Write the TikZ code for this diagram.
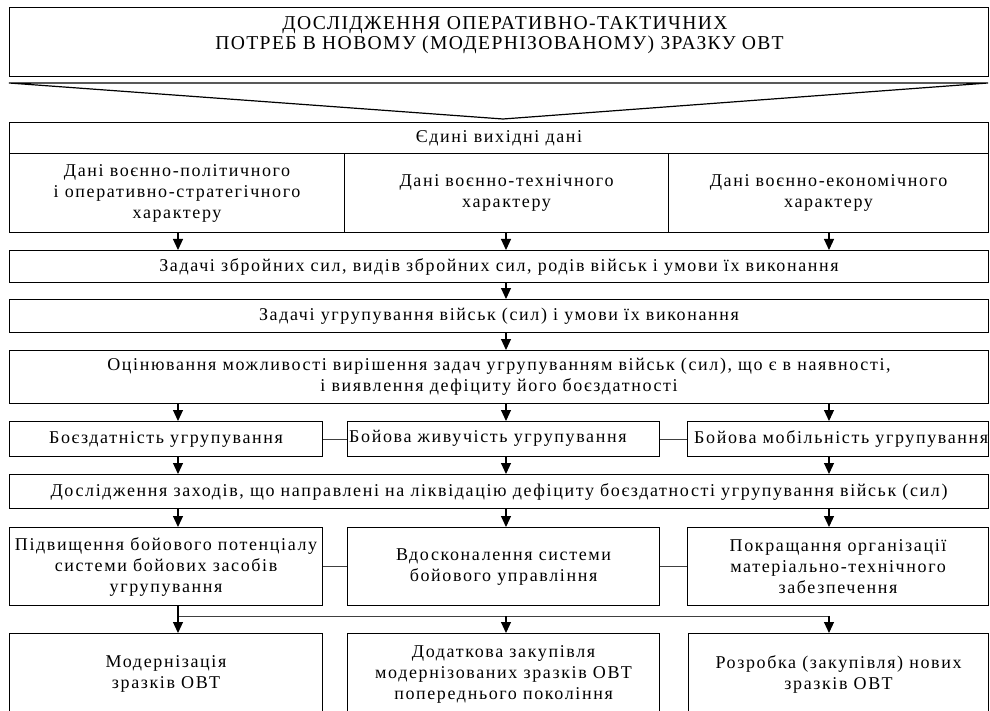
\documentclass[tikz,border=0pt]{standalone}
\usepackage{fontspec}
\setmainfont{Liberation Serif}
\newfontfamily\bodyfont{Liberation Serif}[LetterSpace=9]
\newfontfamily\titlefont{Liberation Serif}[LetterSpace=7]
\usetikzlibrary{arrows.meta}
\begin{document}
\begin{tikzpicture}[x=1pt,y=-1pt,
  box/.style={draw=black, line width=1.1pt, inner sep=0pt, anchor=north west, align=center,
    font=\bodyfont\fontsize{18}{21}\selectfont},
  txt/.style={inner sep=0pt, align=center, font=\bodyfont\fontsize{18}{21}\selectfont},
  ttl/.style={inner sep=0pt, anchor=base, font=\titlefont\fontsize{19.6}{21}\selectfont},
  arr/.style={draw=black, line width=1.1pt, -{Triangle[length=11pt,width=10pt]}},
  link/.style={draw=black!75, line width=0.9pt}]
\useasboundingbox (0,0) rectangle (990,711);
\fill[white] (0,0) rectangle (990,711);
% arrow columns
\coordinate (xa) at (178,0);
\coordinate (xb) at (506,0);
\coordinate (xc) at (829,0);
% title
\node[box, minimum width=979, minimum height=69] (top) at (9,7) {};
\node[ttl] (toptxt1) at (505,30) {ДОСЛІДЖЕННЯ ОПЕРАТИВНО-ТАКТИЧНИХ};
\node[ttl] (toptxt2) at (499.5,50) {ПОТРЕБ В НОВОМУ (МОДЕРНІЗОВАНОМУ) ЗРАЗКУ ОВТ};
% chevron
\coordinate (chl) at (9,83);
\coordinate (chr) at (988,83);
\coordinate (cht) at (503,119);
\draw[line width=1.2pt, line join=miter] (chl) -- (chr) -- (cht) -- cycle;
% source data
\node[box, minimum width=979, minimum height=31] (hdr) at (9,122) {Єдині вихідні дані};
\node[box, minimum width=335, minimum height=79] (c1) at (9,153)
  {Дані воєнно-політичного\\і оперативно-стратегічного\\характеру};
\node[box, minimum width=324, minimum height=79] (c2) at (344,153)
  {Дані воєнно-технічного\\характеру};
\node[box, minimum width=320, minimum height=79] (c3) at (668,153)
  {Дані воєнно-економічного\\характеру};
% rows
\node[box, minimum width=979, minimum height=32] (b2) at (9,250)
  {Задачі збройних сил, видів збройних сил, родів військ і умови їх виконання};
\node[box, minimum width=979, minimum height=33] (b3) at (9,299)
  {Задачі угрупування військ (сил) і умови їх виконання};
\node[box, minimum width=979, minimum height=53] (b4) at (9,350)
  {Оцінювання можливості вирішення задач угрупуванням військ (сил), що є в наявності,\\і виявлення дефіциту його боєздатності};
\draw[arr] (xa |- c1.south) -- (xa |- b2.north);
\draw[arr] (xb |- c2.south) -- (xb |- b2.north);
\draw[arr] (xc |- c3.south) -- (xc |- b2.north);
\draw[arr] (xb |- b2.south) -- (xb |- b3.north);
\draw[arr] (xb |- b3.south) -- (xb |- b4.north);
% row 1
\node[box, minimum width=313, minimum height=35] (r1a) at (9,421) {Боєздатність угрупування};
\node[box, minimum width=312, minimum height=35] (r1b) at (347,421) {};
\node[box, minimum width=301, minimum height=35] (r1c) at (687,421) {};
\node[txt, anchor=west] (r1bt) at (349,438.5) {Бойова живучість угрупування};
\node[txt, anchor=west] (r1ct) at (694,438.5) {Бойова мобільність угрупування};
\draw[link] (r1a.east) -- (r1b.west);
\draw[link] (r1b.east) -- (r1c.west);
\draw[arr] (xa |- b4.south) -- (xa |- r1a.north);
\draw[arr] (xb |- b4.south) -- (xb |- r1b.north);
\draw[arr] (xc |- b4.south) -- (xc |- r1c.north);
% measures
\node[box, minimum width=979, minimum height=34] (b6) at (9,474)
  {Дослідження заходів, що направлені на ліквідацію дефіциту боєздатності угрупування військ (сил)};
\draw[arr] (xa |- r1a.south) -- (xa |- b6.north);
\draw[arr] (xb |- r1b.south) -- (xb |- b6.north);
\draw[arr] (xc |- r1c.south) -- (xc |- b6.north);
% row 2
\node[box, minimum width=313, minimum height=78] (r2a) at (9,527)
  {Підвищення бойового потенціалу\\системи бойових засобів\\угрупування};
\node[box, minimum width=312, minimum height=78] (r2b) at (347,527)
  {Вдосконалення системи\\бойового управління};
\node[box, minimum width=301, minimum height=78] (r2c) at (687,527)
  {Покращання організації\\матеріально-технічного\\забезпечення};
\draw[link] (r2a.east) -- (r2b.west);
\draw[link] (r2b.east) -- (r2c.west);
\draw[arr] (xa |- b6.south) -- (xa |- r2a.north);
\draw[arr] (xb |- b6.south) -- (xb |- r2b.north);
\draw[arr] (xc |- b6.south) -- (xc |- r2c.north);
% bottom
\node[box, minimum width=313, minimum height=81] (b7a) at (9,633)
  {Модернізація\\зразків ОВТ};
\node[box, minimum width=312, minimum height=81] (b7b) at (347,633)
  {Додаткова закупівля\\модернізованих зразків ОВТ\\попереднього покоління};
\node[box, minimum width=300, minimum height=81] (b7c) at (688,633)
  {Розробка (закупівля) нових\\зразків ОВТ};
\coordinate (ja) at (178,616);
\coordinate (jc) at (829,616);
\draw[line width=1.1pt] (xa |- r2a.south) -- (ja);
\draw[link] (ja) -- (jc);
\draw[arr] (ja) -- (xa |- b7a.north);
\draw[arr] (xb |- ja) -- (xb |- b7b.north);
\draw[arr] (jc) -- (xc |- b7c.north);
\end{tikzpicture}
\end{document}
